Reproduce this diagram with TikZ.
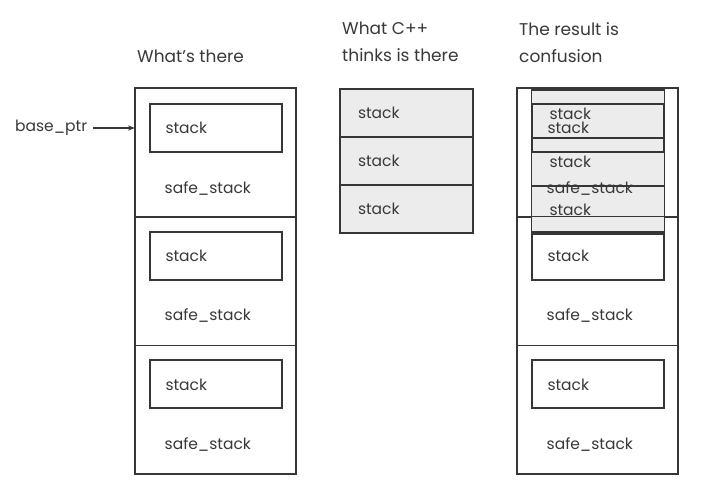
\documentclass[tikz,border=0pt]{standalone}
\usepackage{fontspec}
\setmainfont{Poppins}
\usepackage{xcolor}
\usepackage{tikz}
\usetikzlibrary{arrows.meta, positioning, calc}

\definecolor{linegray}{HTML}{363636}
\definecolor{textgray}{HTML}{383838}
\definecolor{cppgray}{HTML}{ECECEC}

\begin{document}
\begin{tikzpicture}[
    x=1pt,
    y=-1pt,
    font=\fontsize{15.5}{27}\selectfont,
    row/.style={
        rectangle,
        draw=linegray,
        line width=1.5pt,
        minimum width=161pt,
        minimum height=128.7pt,
        inner sep=0pt,
        outer sep=0pt
    },
    stackbox/.style={
        rectangle,
        draw=linegray,
        line width=2pt,
        text=textgray,
        text width=100pt,
        align=left,
        inner xsep=16pt,
        inner ysep=0pt,
        minimum height=48pt
    },
    cppbox/.style={
        rectangle,
        draw=linegray,
        line width=1.4pt,
        fill=cppgray,
        text=textgray,
        text width=97pt,
        align=left,
        inner xsep=18pt,
        inner ysep=0pt,
        minimum height=48pt,
        outer sep=0pt
    },
    label/.style={
        text=textgray,
        anchor=west,
        inner sep=0pt
    },
    title/.style={
        text=textgray,
        anchor=north west,
        align=left,
        inner sep=0pt,
        font=\fontsize{17}{27}\selectfont
    },
    arrow/.style={
        -{Stealth[length=7pt, width=5pt]},
        line width=1.3pt,
        color=linegray
    }
]
\useasboundingbox (0,0) rectangle (703,485);

% Titles
\node[title] (t1) at (137,50) {What's there};
\node[title] (t2) at (342,22) {What C++\\thinks is there};
\node[title] (t3) at (519,22) {The result is\\confusion};

% What's there
\node[row] (l1) at (215.5,152.4) {};
\node[row, below=0pt of l1] (l2) {};
\node[row, below=0pt of l2] (l3) {};
\node[stackbox, below=15pt of l1.north] (ls1) {stack};
\node[stackbox, below=14pt of l2.north] (ls2) {stack};
\node[stackbox, below=14pt of l3.north] (ls3) {stack};
\node[label] (lf1) at ($(ls1.south west)+(16,35)$) {safe\_stack};
\node[label] (lf2) at ($(ls2.south west)+(16,35)$) {safe\_stack};
\node[label] (lf3) at ($(ls3.south west)+(16,35)$) {safe\_stack};

% What C++ thinks is there
\node[cppbox] (m1) at (406.5,113) {stack};
\node[cppbox, below=0pt of m1] (m2) {stack};
\node[cppbox, below=0pt of m2] (m3) {stack};

% The result is confusion
\node[row] (r1) at (597.5,152.4) {};
\node[row, below=0pt of r1] (r2) {};
\node[row, below=0pt of r2] (r3) {};
\node[cppbox, minimum width=133pt] (c1) at (598,114) {stack};
\node[cppbox, below=0pt of c1] (c2) {stack};
\node[cppbox, below=0pt of c2] (c3) {stack};
\node[stackbox, below=15pt of r1.north] (rs1) {stack};
\node[stackbox, below=14pt of r2.north] (rs2) {stack};
\node[stackbox, below=14pt of r3.north] (rs3) {stack};
\node[label] (rf1) at ($(rs1.south west)+(16,35)$) {safe\_stack};
\node[label] (rf2) at ($(rs2.south west)+(16,35)$) {safe\_stack};
\node[label] (rf3) at ($(rs3.south west)+(16,35)$) {safe\_stack};
\draw[linegray, line width=0.8pt] (r1.south west) -- (r1.south east);

% Arrows
\node[label] (ptr) at (15,128) {base\_ptr};
\draw[arrow] ([xshift=6pt]ptr.east) -- (ptr.east -| l1.west);

\end{tikzpicture}
\end{document}
